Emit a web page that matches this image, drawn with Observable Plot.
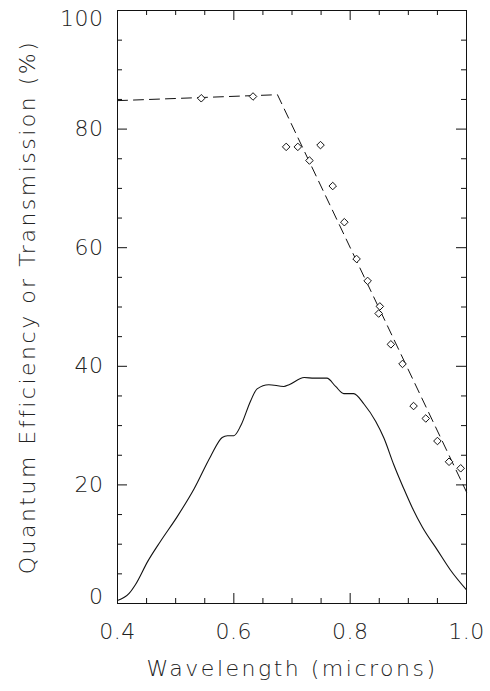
<!DOCTYPE html>
<html>
<head>
<meta charset="utf-8">
<script src="https://cdn.jsdelivr.net/npm/d3@7"></script>
<script src="https://cdn.jsdelivr.net/npm/@observablehq/plot@0.6"></script>
<style>
  html, body { margin: 0; padding: 0; background: #fff; }
  svg text { font-family: "DejaVu Sans", sans-serif; font-weight: 200; }
</style>
</head>
<body>
<div id="chart"></div>
<script>
// Quantum efficiency curve (solid line)
const qeWave = [0.400,0.420,0.431,0.452,0.474,0.503,0.532,0.560,0.580,0.589,0.600,0.612,0.629,0.640,0.660,0.686,0.695,0.721,0.738,0.760,0.775,0.789,0.806,0.824,0.844,0.858,0.875,0.892,0.907,0.924,0.950,0.972,1.000];
const qeValue = [0.5,1.7,3.2,7.1,10.5,14.7,19.4,24.8,28.0,28.3,28.3,30.0,34.2,36.2,36.9,36.6,36.9,38.1,38.0,38.0,36.6,35.4,35.4,33.6,30.7,27.9,23.4,19.4,16.1,12.9,9.0,5.7,2.3];

// Transmission measurements (diamonds)
const trWave = [0.544,0.633,0.690,0.710,0.730,0.749,0.770,0.790,0.811,0.830,0.851,0.849,0.870,0.890,0.909,0.930,0.950,0.970,0.990];
const trValue = [85.2,85.5,77.0,77.0,74.7,77.3,70.4,64.3,58.1,54.4,50.1,48.9,43.7,40.4,33.3,31.2,27.4,23.9,22.8];

// Transmission model (dashed line)
const fitWave = [0.400,0.675,1.000];
const fitValue = [84.8,85.8,18.8];

// Axis ticks
const xMajor = [0.4,0.6,0.8,1.0];
const xMinor = [0.45,0.5,0.55,0.65,0.7,0.75,0.85,0.9,0.95];
const yMajor = [0,20,40,60,80,100];
const yMinor = [5,10,15,25,30,35,45,50,55,65,70,75,85,90,95];
const yMidLabels = [20,40,60,80];

const xLabel = "Wavelength (microns)";
const yLabel = "Quantum Efficiency or Transmission (%)";

const qe = qeWave.map((x, i) => ({x, y: qeValue[i]}));
const tr = trWave.map((x, i) => ({x, y: trValue[i]}));
const fit = fitWave.map((x, i) => ({x, y: fitValue[i]}));

const W = 490, H = 691;
const mL = 117, mR = 24, mT = 10, mB = 88;
const fw = W - mL - mR, fh = H - mT - mB;
const major = 10, minor = 5;
const ink = "#111";
const txt = "#222";

const chart = Plot.plot({
  width: W, height: H,
  marginLeft: mL, marginRight: mR, marginTop: mT, marginBottom: mB,
  style: {fontFamily: "DejaVu Sans", background: "#fff", color: txt},
  x: {domain: [0.4, 1.0]},
  y: {domain: [0, 100]},
  marks: [
    // inward ticks on all four sides
    Plot.tickX(xMajor, {x: d => d, insetTop: fh - major, stroke: ink}),
    Plot.tickX(xMajor, {x: d => d, insetBottom: fh - major, stroke: ink}),
    Plot.tickX(xMinor, {x: d => d, insetTop: fh - minor, stroke: ink}),
    Plot.tickX(xMinor, {x: d => d, insetBottom: fh - minor, stroke: ink}),
    Plot.tickY(yMajor, {y: d => d, insetRight: fw - major, stroke: ink}),
    Plot.tickY(yMajor, {y: d => d, insetLeft: fw - major, stroke: ink}),
    Plot.tickY(yMinor, {y: d => d, insetRight: fw - minor, stroke: ink}),
    Plot.tickY(yMinor, {y: d => d, insetLeft: fw - minor, stroke: ink}),
    // tick labels
    Plot.axisX({anchor: "bottom", ticks: xMajor, tickSize: 0, tickPadding: 20, tickFormat: d3.format(".1f"), label: null, fontSize: 22, fill: txt}),
    Plot.axisY({anchor: "left", ticks: yMidLabels, tickSize: 0, tickPadding: 14, tickFormat: d => String(d), label: null, fontSize: 22, fill: txt}),
    Plot.axisY({anchor: "left", ticks: [100], tickSize: 0, tickPadding: 14, dy: 8, tickFormat: d => String(d), label: null, fontSize: 22, fill: txt}),
    Plot.axisY({anchor: "left", ticks: [0], tickSize: 0, tickPadding: 14, dy: -7, tickFormat: d => String(d), label: null, fontSize: 22, fill: txt}),
    // axis titles
    Plot.text([xLabel], {text: d => d, frameAnchor: "bottom", textAnchor: "middle", lineAnchor: "middle", dy: 65, fontSize: 22, fill: txt}),
    Plot.text([yLabel], {text: d => d, frameAnchor: "left", textAnchor: "middle", lineAnchor: "middle", rotate: -90, dx: -90, fontSize: 22, fill: txt}),
    // data
    Plot.line(fit, {x: "x", y: "y", stroke: ink, strokeWidth: 1, strokeDasharray: "10,6"}),
    Plot.line(qe, {x: "x", y: "y", stroke: ink, strokeWidth: 1.1, curve: "monotone-x"}),
    Plot.dot(tr, {x: "x", y: "y", symbol: "diamond2", r: 3.4, stroke: ink, strokeWidth: 1, fill: "white"}),
    Plot.frame({stroke: ink, strokeWidth: 1})
  ]
});
chart.querySelectorAll("text").forEach(t => t.setAttribute("letter-spacing", "2.5"));
chart.querySelectorAll("g[aria-label='x-axis tick label'] text, g[aria-label='y-axis tick label'] text").forEach(t => t.setAttribute("letter-spacing", "0.5"));
document.getElementById("chart").appendChild(chart);
</script>
</body>
</html>
